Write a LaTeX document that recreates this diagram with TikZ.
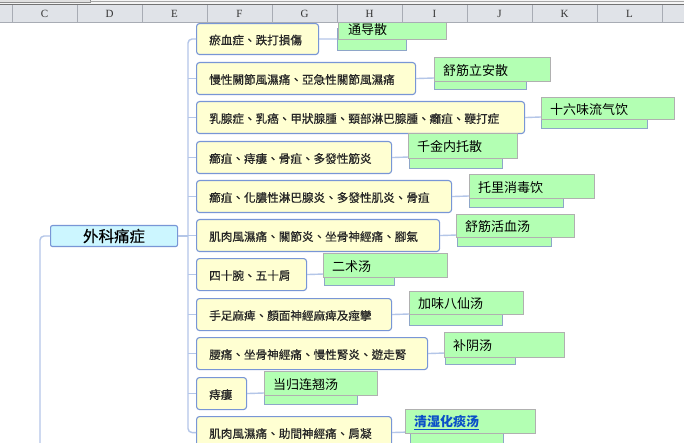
\documentclass[tikz,border=0pt]{standalone}
\usepackage{fontspec}
\newfontfamily\tcfont{Noto Sans CJK TC}
\newfontfamily\tcfontb{Noto Sans CJK TC}[FakeBold=0.5]
\newfontfamily\scfont{Noto Sans CJK SC}
\newfontfamily\hdfont{Liberation Serif}
\definecolor{yfill}{HTML}{FFFFD2}
\definecolor{ybd}{HTML}{7896D6}
\definecolor{ytx}{HTML}{262626}
\definecolor{rfill}{HTML}{CCF6FF}
\definecolor{gfill}{HTML}{B3FFB3}
\definecolor{gbd}{HTML}{B0B0B0}
\definecolor{glbd}{HTML}{8EA6C8}
\definecolor{cline}{HTML}{B4C6E8}
\definecolor{hdbg}{HTML}{E0E3E8}
\definecolor{hdln}{HTML}{A8ACB4}
\definecolor{lnk}{HTML}{0A50C8}
\tikzset{
  ybox/.style={draw=ybd, fill=yfill, line width=1.1pt, rounded corners=3pt, inner sep=0pt, anchor=north west},
  ytext/.style={font=\tcfontb\fontsize{11.6}{12}\selectfont, text=ytx, inner sep=0pt, anchor=west},
  gmain/.style={draw=gbd, fill=gfill, line width=0.8pt, inner sep=0pt, anchor=north west},
  glow/.style={draw=glbd, fill=gfill, line width=0.8pt, inner sep=0pt, anchor=west, minimum height=22pt},
  gtext/.style={font=\scfont\fontsize{13}{14}\selectfont, text=black, inner sep=0pt, anchor=west},
  conn/.style={draw=cline, line width=1.4pt},
  hdtext/.style={font=\hdfont\fontsize{11}{12}\selectfont, text=black!80, inner sep=0pt}
}
\begin{document}
\begin{tikzpicture}[x=1pt,y=-1pt]
\useasboundingbox (0,0) rectangle (684,443);
\fill[white] (0,0) rectangle (684,443);

% root
\node[draw=ybd, fill=rfill, line width=1.1pt, rounded corners=2pt, inner sep=0pt,
      minimum width=127pt, minimum height=21pt, anchor=north west,
      font=\tcfontb\fontsize{15.5}{16}\selectfont] (root) at (50,225) {外科痛症};

% children (yellow)
\node[ybox, minimum width=122pt, minimum height=31pt] (c1) at (196,23) {};
\node[ybox, minimum width=219pt, minimum height=32pt] (c2) at (196,62) {};
\node[ybox, minimum width=328pt, minimum height=32pt] (c3) at (196,101) {};
\node[ybox, minimum width=195pt, minimum height=32pt] (c4) at (196,141) {};
\node[ybox, minimum width=255pt, minimum height=32pt] (c5) at (196,180) {};
\node[ybox, minimum width=243pt, minimum height=32pt] (c6) at (196,219) {};
\node[ybox, minimum width=110pt, minimum height=32pt] (c7) at (196,258) {};
\node[ybox, minimum width=195pt, minimum height=32pt] (c8) at (196,298) {};
\node[ybox, minimum width=231pt, minimum height=32pt] (c9) at (196,337) {};
\node[ybox, minimum width=50pt, minimum height=32pt] (c10) at (196,377) {};
\node[ybox, minimum width=195pt, minimum height=32pt] (c11) at (196,416) {};

\node[ytext] (t1) at ([xshift=13pt,yshift=-1pt]c1.west) {瘀血症、跌打損傷};
\node[ytext] (t2) at ([xshift=13pt,yshift=-1pt]c2.west) {慢性關節風濕痛、亞急性關節風濕痛};
\node[ytext] (t3) at ([xshift=13pt,yshift=-1pt]c3.west) {乳腺症、乳癌、甲狀腺腫、頸部淋巴腺腫、癰疽、鞭打症};
\node[ytext] (t4) at ([xshift=13pt,yshift=-1pt]c4.west) {癤疽、痔瘻、骨疽、多發性筋炎};
\node[ytext] (t5) at ([xshift=13pt,yshift=-1pt]c5.west) {癤疽、化膿性淋巴腺炎、多發性肌炎、骨疽};
\node[ytext] (t6) at ([xshift=13pt,yshift=-1pt]c6.west) {肌肉風濕痛、關節炎、坐骨神經痛、腳氣};
\node[ytext] (t7) at ([xshift=13pt,yshift=-1pt]c7.west) {四十腕、五十肩};
\node[ytext] (t8) at ([xshift=13pt,yshift=-1pt]c8.west) {手足麻痺、顏面神經麻痺及痙攣};
\node[ytext] (t9) at ([xshift=13pt,yshift=-1pt]c9.west) {腰痛、坐骨神經痛、慢性腎炎、遊走腎};
\node[ytext] (t10) at ([xshift=13pt,yshift=-1pt]c10.west) {痔瘻};
\node[ytext] (t11) at ([xshift=13pt,yshift=-1pt]c11.west) {肌肉風濕痛、助間神經痛、肩凝};

% lower green boxes (actual nodes)
\node[glow, minimum width=69pt] (g1) at (337,39) {};
\node[glow, minimum width=92pt] (g2) at (434,78) {};
\node[glow, minimum width=106pt] (g3) at (541,117) {};
\node[glow, minimum width=93pt] (g4) at (409,157) {};
\node[glow, minimum width=94pt] (g5) at (469,196) {};
\node[glow, minimum width=94pt] (g6) at (457,235) {};
\node[glow, minimum width=70pt] (g7) at (324,274) {};
\node[glow, minimum width=93pt] (g8) at (409,314) {};
\node[glow, minimum width=70pt] (g9) at (445,353) {};
\node[glow, minimum width=93pt] (g10) at (264,393) {};
\node[glow, minimum width=93pt] (g11) at (410,432) {};

% connectors
\coordinate (tk) at (188,0);
\coordinate (lb) at (40,450);
\draw[conn, rounded corners=4pt] (c1.west) -| (tk |- c6.west) |- (c11.west);
\foreach \i in {2,...,10} { \draw[conn] (c\i.west) -- (c\i.west -| tk); }
\draw[conn] (root.east) -- (root.east -| tk);
\draw[conn, rounded corners=4pt] (root.west) -| (lb);
\foreach \i in {1,...,11} { \draw[conn] (c\i.east) -- (g\i.west); }

% main green boxes (overlay)
\node[gmain, minimum width=108pt, minimum height=24pt] (f1) at (338,15) {};
\node[gmain, minimum width=116pt, minimum height=24pt] (f2) at (434,57) {};
\node[gmain, minimum width=133pt, minimum height=22pt] (f3) at (541,97) {};
\node[gmain, minimum width=109pt, minimum height=25pt] (f4) at (408,133) {};
\node[gmain, minimum width=125pt, minimum height=24pt] (f5) at (469,174) {};
\node[gmain, minimum width=118pt, minimum height=23pt] (f6) at (456,214) {};
\node[gmain, minimum width=124pt, minimum height=24pt] (f7) at (323,253) {};
\node[gmain, minimum width=114pt, minimum height=23pt] (f8) at (409,291) {};
\node[gmain, minimum width=120pt, minimum height=25pt] (f9) at (444,332) {};
\node[gmain, minimum width=113pt, minimum height=24pt] (f10) at (264,371) {};
\node[gmain, minimum width=130pt, minimum height=24pt] (f11) at (405,409) {};

\node[gtext] (ft1) at ([xshift=10pt,yshift=-2pt]f1.west) {通导散};
\node[gtext] (ft2) at ([xshift=9pt,yshift=-1pt]f2.west) {舒筋立安散};
\node[gtext] (ft3) at ([xshift=9pt,yshift=-1pt]f3.west) {十六味流气饮};
\node[gtext] (ft4) at ([xshift=9pt,yshift=-1pt]f4.west) {千金内托散};
\node[gtext] (ft5) at ([xshift=9pt,yshift=-1pt]f5.west) {托里消毒饮};
\node[gtext] (ft6) at ([xshift=9pt,yshift=-1pt]f6.west) {舒筋活血汤};
\node[gtext] (ft7) at ([xshift=9pt,yshift=-1pt]f7.west) {二术汤};
\node[gtext] (ft8) at ([xshift=9pt,yshift=-1pt]f8.west) {加味八仙汤};
\node[gtext] (ft9) at ([xshift=9pt,yshift=-1pt]f9.west) {补阴汤};
\node[gtext] (ft10) at ([xshift=9pt,yshift=-1pt]f10.west) {当归连翘汤};
\node[gtext, text=lnk, font=\scfont\bfseries\fontsize{13}{14}\selectfont] (ft11) at ([xshift=9pt,yshift=-1pt]f11.west) {\underline{清湿化痰汤}};

% spreadsheet header
\fill[black!4] (0,0) rectangle (684,5);
\fill[black!12] (0,0) rectangle (90,2);
\draw[black!45, line width=0.6pt] (0,2) -- (90,2) -- (90,0);
\draw[black!35, line width=0.6pt] (90,1) -- (684,1);
\fill[hdbg] (0,5) rectangle (684,22);
\draw[black!55, line width=1pt] (0,5) -- (684,5);
\draw[hdln, line width=0.8pt] (0,22) -- (684,22);
\foreach \xx in {12,77,142,207,272,337,402,467,532,597,662} { \draw[hdln, line width=0.8pt] (\xx,5) -- (\xx,22); }
\foreach \lab/\xx in {C/44.5,D/109.5,E/174.5,F/239.5,G/304.5,H/369.5,I/434.5,J/499.5,K/564.5,L/629.5} {
  \node[hdtext] (hd\lab) at (\xx,14) {\lab};
}
\end{tikzpicture}
\end{document}
